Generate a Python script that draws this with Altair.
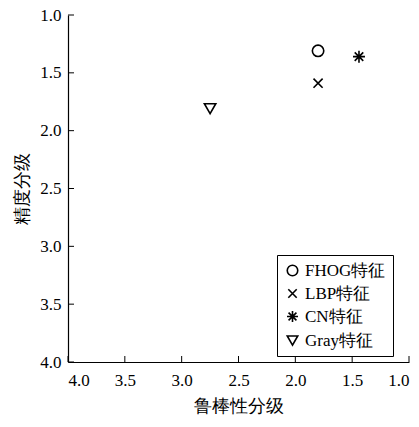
import altair as alt
import pandas as pd

features = ["FHOG特征", "LBP特征", "CN特征", "Gray特征"]
robustness = [1.8, 1.8, 1.44, 2.75]
precision = [1.31, 1.59, 1.36, 1.81]
shapes = [
    "circle",
    "M-0.8,-0.8L0.8,0.8M0.8,-0.8L-0.8,0.8",
    "M-1.05,0L1.05,0M0,-1.05L0,1.05M-0.75,-0.75L0.75,0.75M-0.75,0.75L0.75,-0.75",
    "triangle-down",
]
x_ticks = [4.0, 3.5, 3.0, 2.5, 2.0, 1.5, 1.0]
y_ticks = [1.0, 1.5, 2.0, 2.5, 3.0, 3.5, 4.0]

FONT = "Liberation Serif"
W, H = 341, 347

df = pd.DataFrame({"feature": features, "x": robustness, "y": precision})
xt = pd.DataFrame({"t": x_ticks})
yt = pd.DataFrame({"t": y_ticks})

xscale = alt.Scale(domain=[4.0, 1.0], nice=False, zero=False)
yscale = alt.Scale(domain=[1.0, 4.0], reverse=True, nice=False, zero=False)

points = alt.Chart(df).mark_point(
    filled=False, color="black", strokeWidth=1.6, size=130, opacity=1
).encode(
    x=alt.X("x:Q", scale=xscale,
            axis=alt.Axis(values=x_ticks, format=".1f", ticks=False, grid=False,
                          title="鲁棒性分级", labelPadding=10, titlePadding=9)),
    y=alt.Y("y:Q", scale=yscale,
            axis=alt.Axis(values=y_ticks, format=".1f", ticks=False, grid=False,
                          title="精度分级", labelPadding=7, titlePadding=8)),
    shape=alt.Shape("feature:N", sort=features,
                    scale=alt.Scale(domain=features, range=shapes),
                    legend=alt.Legend(title=None, orient="none", legendX=209, legendY=240,
                                      strokeColor="black", padding=7, rowPadding=5,
                                      labelFontSize=17, labelFont=FONT, symbolSize=110,
                                      symbolStrokeWidth=1.6, symbolStrokeColor="black",
                                      symbolFillColor="transparent", labelLimit=200)),
)

xticks = alt.Chart(xt).mark_rule(color="black", strokeWidth=1).encode(
    x=alt.X("t:Q", scale=xscale), y=alt.value(H), y2=alt.value(H - 6)
)
yticks = alt.Chart(yt).mark_rule(color="black", strokeWidth=1).encode(
    y=alt.Y("t:Q", scale=yscale), x=alt.value(0), x2=alt.value(6)
)

chart = alt.layer(points, xticks, yticks).properties(
    width=W, height=H,
    background="white",
    autosize=alt.AutoSizeParams(type="none"),
    padding={"left": 68, "top": 15, "right": 10, "bottom": 65},
).configure_view(stroke=None).configure_axis(
    domainColor="black", domainWidth=1.2, labelColor="black", titleColor="black",
    labelFont=FONT, titleFont=FONT, labelFontSize=17, titleFontSize=18,
    titleFontWeight="normal",
)

chart.save("out.html", embed_options={"renderer": "svg", "actions": False})
